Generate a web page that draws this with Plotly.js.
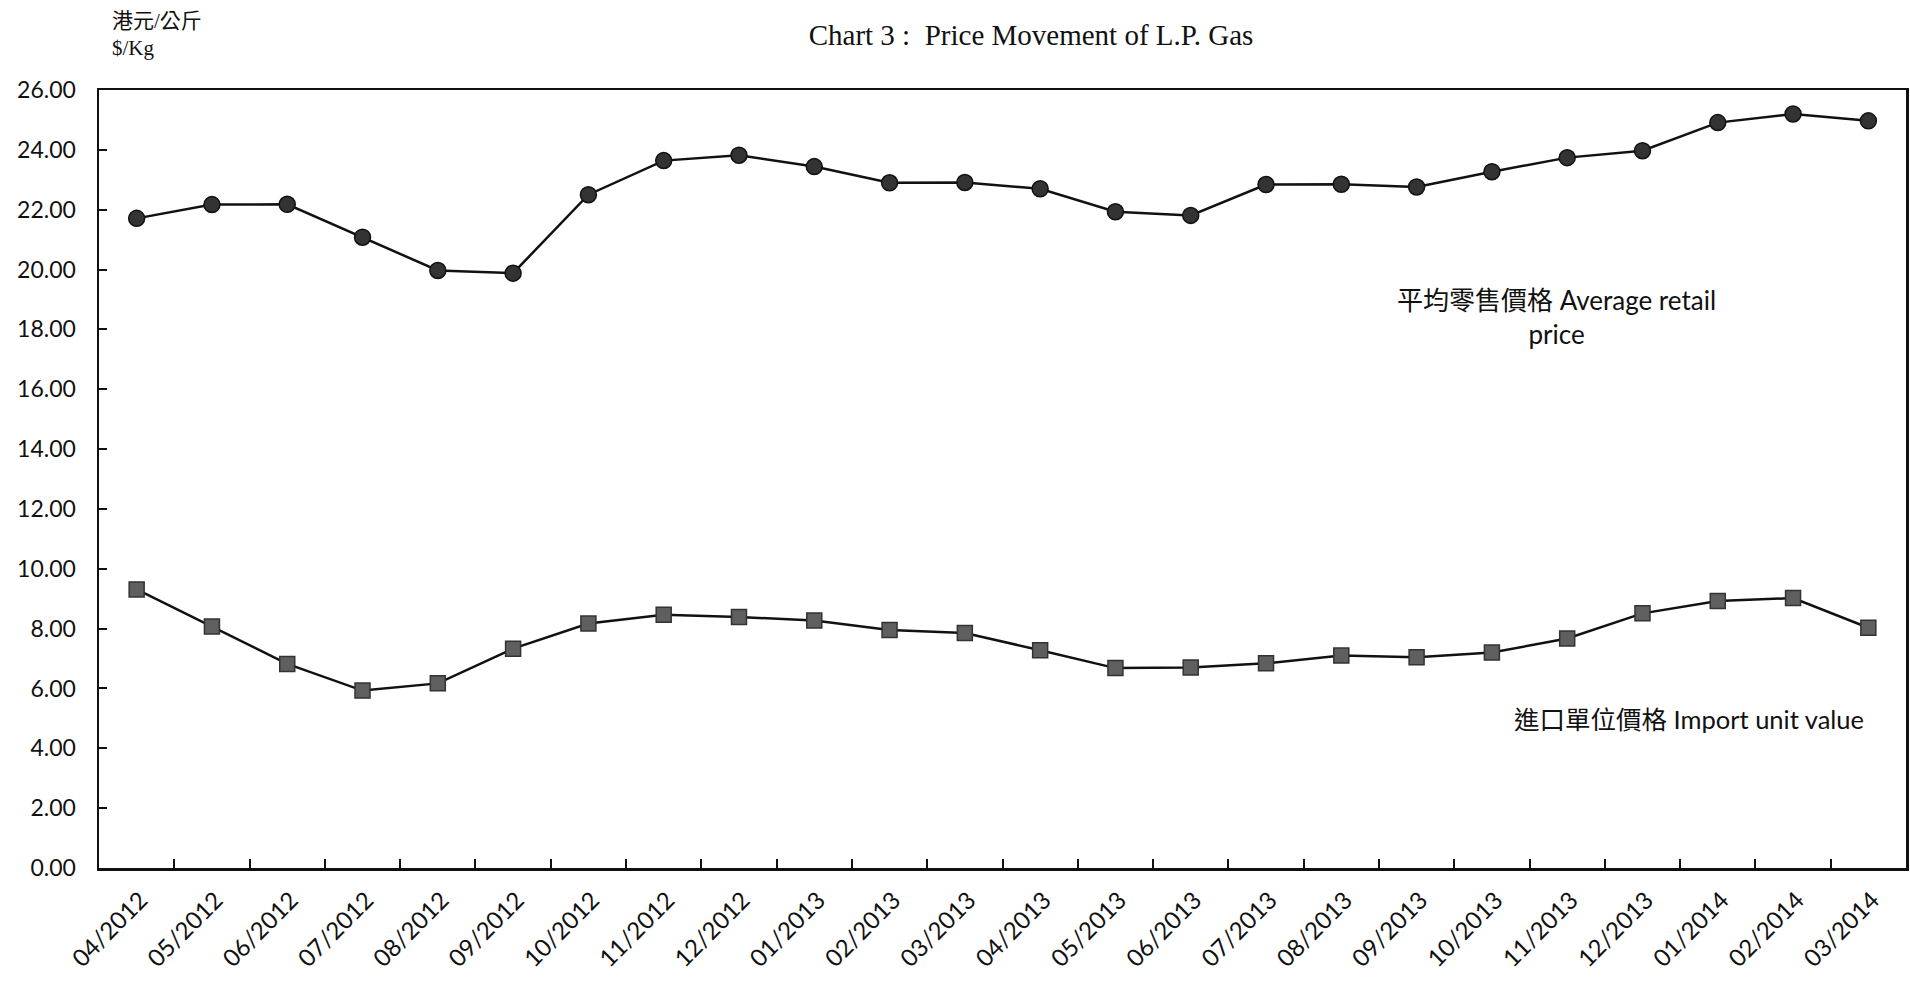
<!DOCTYPE html>
<html>
<head>
<meta charset="utf-8">
<script src="https://cdn.plot.ly/plotly-3.0.1.min.js"></script>
<style>
  html, body { margin: 0; padding: 0; background: #ffffff; }
  #chart { width: 1910px; height: 983px; }
</style>
</head>
<body>
<div id="chart"></div>
<script>
// Categories (month/year)
const months = ['04/2012','05/2012','06/2012','07/2012','08/2012','09/2012','10/2012','11/2012','12/2012',
  '01/2013','02/2013','03/2013','04/2013','05/2013','06/2013','07/2013','08/2013','09/2013','10/2013',
  '11/2013','12/2013','01/2014','02/2014','03/2014'];

// Average retail price ($/Kg)
const retailPrice = [21.71, 22.17, 22.18, 21.08, 19.97, 19.88, 22.50, 23.64, 23.82, 23.44, 22.90, 22.91,
  22.70, 21.93, 21.81, 22.84, 22.85, 22.76, 23.27, 23.74, 23.97, 24.91, 25.20, 24.97];

// Import unit value ($/Kg)
const importValue = [9.31, 8.07, 6.82, 5.93, 6.17, 7.33, 8.17, 8.46, 8.39, 8.27, 7.95, 7.85,
  7.28, 6.68, 6.70, 6.84, 7.10, 7.04, 7.20, 7.67, 8.51, 8.92, 9.02, 8.03];

const yTickVals = [0,2,4,6,8,10,12,14,16,18,20,22,24,26];

const titleText = 'Chart 3\u00a0:\u00a0\u00a0Price Movement of L.P. Gas';
const unitLabel = '港元/公斤<br>$/Kg';
const retailLabel = '平均零售價格 Average retail<br>price';
const importLabel = '進口單位價格 Import unit value';

const cjkFont = 'Lato, "Noto Sans CJK TC", sans-serif';

const traces = [
  {
    x: months, y: retailPrice, type: 'scatter', mode: 'lines+markers',
    line: { color: '#111111', width: 2.5 },
    marker: { symbol: 'circle', size: 16, color: '#333333', line: { color: '#111111', width: 1.5 } },
    hoverinfo: 'x+y'
  },
  {
    x: months, y: importValue, type: 'scatter', mode: 'lines+markers',
    line: { color: '#111111', width: 2.5 },
    marker: { symbol: 'square', size: 15, color: '#5f5f5f', line: { color: '#333333', width: 1.5 } },
    hoverinfo: 'x+y'
  }
];

const layout = {
  width: 1910, height: 983,
  paper_bgcolor: '#ffffff', plot_bgcolor: '#ffffff',
  showlegend: false,
  margin: { l: 99, r: 4, t: 90, b: 115 },
  title: {
    text: titleText,
    font: { family: '"Liberation Serif", "Times New Roman", serif', size: 29, color: '#111111' },
    x: 1031 / 1910, xanchor: 'center', xref: 'container',
    y: 0.965, yanchor: 'middle', yref: 'container'
  },
  xaxis: {
    type: 'category',
    range: [-0.5, 23.5],
    showline: true, linecolor: '#111111', linewidth: 2.5, mirror: true,
    ticks: 'inside', tickson: 'boundaries', ticklen: 9, tickwidth: 2, tickcolor: '#111111',
    tickangle: -45,
    tickfont: { family: 'Lato, sans-serif', size: 24, color: '#111111' },
    ticklabelstandoff: 6,
    ticklabelshift: 4,
    showgrid: false, zeroline: false, fixedrange: true
  },
  yaxis: {
    range: [0, 26],
    tickvals: yTickVals,
    tickformat: '.2f',
    showline: true, linecolor: '#111111', linewidth: 2.5, mirror: true,
    ticks: 'inside', ticklen: 8, tickwidth: 2, tickcolor: '#111111',
    tickfont: { family: 'Lato, sans-serif', size: 23, color: '#111111' },
    ticklabelstandoff: 16,
    showgrid: false, zeroline: false, fixedrange: true
  },
  annotations: [
    {
      text: unitLabel, xref: 'paper', yref: 'paper', x: (110 - 99) / 1807, y: 1 + (90 - 35) / 778,
      xanchor: 'left', yanchor: 'middle', align: 'left', showarrow: false,
      font: { family: '"Liberation Serif", "Noto Sans CJK TC", serif', size: 21, color: '#111111' }
    },
    {
      text: retailLabel, xref: 'paper', yref: 'paper', x: (1556 - 99) / 1807, y: (868 - 317) / 778,
      xanchor: 'center', yanchor: 'middle', align: 'center', showarrow: false,
      font: { family: cjkFont, size: 26, color: '#111111' }
    },
    {
      text: importLabel, xref: 'paper', yref: 'paper', x: (1689 - 99) / 1807, y: (868 - 719) / 778,
      xanchor: 'center', yanchor: 'middle', align: 'center', showarrow: false,
      font: { family: cjkFont, size: 25.5, color: '#111111' }
    }
  ]
};

Plotly.newPlot('chart', traces, layout, { displayModeBar: false, staticPlot: true });
</script>
</body>
</html>
